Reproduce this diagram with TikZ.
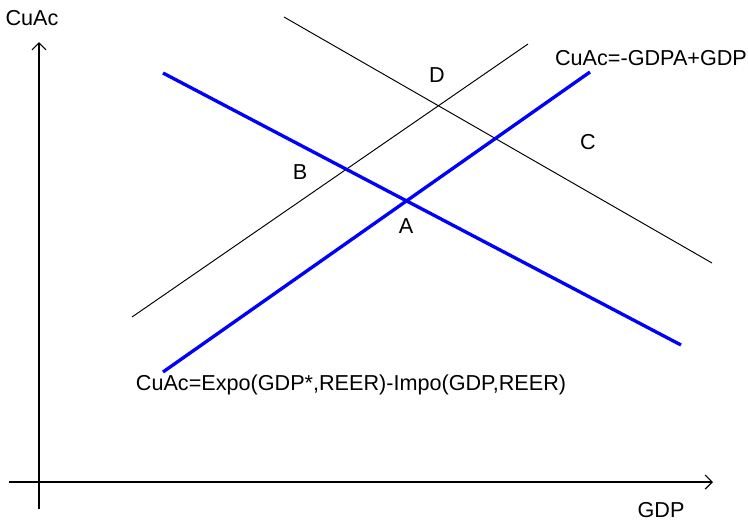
\documentclass[tikz,border=0pt]{standalone}
\usepackage{fontspec}
\setmainfont{Liberation Sans}
\usetikzlibrary{arrows.meta,positioning,calc}

\begin{document}
\begin{tikzpicture}[x=0.02cm,y=-0.02cm,
    axis/.style={line width=0.7pt, -{Straight Barb[length=4pt,width=8pt]}},
    curve/.style={blue, line width=1.9pt},
    shifted/.style={black, line width=0.55pt},
    lbl/.style={font=\fontsize{12.3}{14}\selectfont, inner sep=0pt}]
  \useasboundingbox (0,0) rectangle (748,522);
  % Axes
  \coordinate (ybot) at (39,509);
  \coordinate (ytop) at (39,42);
  \coordinate (xleft) at (9,482);
  \coordinate (xright) at (713,482);
  \draw[axis] (ybot) -- (ytop);
  \draw[axis] (xleft) -- (xright);
  \node[lbl] (ylab) at (32,18) {CuAc};
  \node[lbl] (xlab) at (661,510) {GDP};
  % Shifted lines
  \coordinate (s1a) at (132,317);
  \coordinate (s1b) at (528,44);
  \coordinate (s2a) at (284,17);
  \coordinate (s2b) at (712,263);
  \draw[shifted] (s1a) -- (s1b);
  \draw[shifted] (s2a) -- (s2b);
  % Original lines
  \coordinate (c1a) at (163,73);
  \coordinate (c1b) at (681,345);
  \coordinate (c2a) at (163,372);
  \coordinate (c2b) at (590,72);
  \draw[curve] (c1a) -- (c1b);
  \draw[curve] (c2a) -- (c2b);
  % Points
  \node[lbl] (ptD) at (437,75) {D};
  \node[lbl] (ptC) at (588,142) {C};
  \node[lbl] (ptB) at (300,172) {B};
  \node[lbl] (ptA) at (406,226) {A};
  \node[lbl] (eqgdp) at (651,58) {CuAc=-GDPA+GDP};
  \node[lbl] (eqexp) at (351,385) {CuAc=Expo(GDP*,REER)-Impo(GDP,REER)};
\end{tikzpicture}
\end{document}
